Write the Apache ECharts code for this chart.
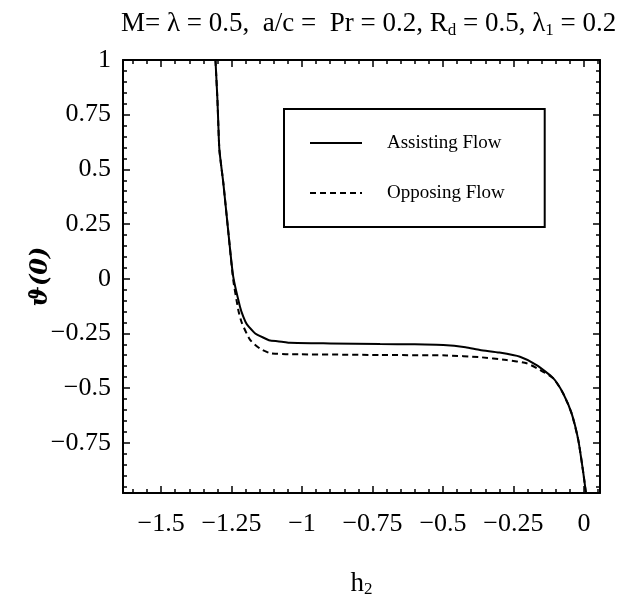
<!DOCTYPE html>
<html>
<head>
<meta charset="utf-8">
<script src="https://cdn.jsdelivr.net/npm/echarts@6/dist/echarts.min.js"></script>
<style>
html,body{margin:0;padding:0;background:#fff;}
#chart{width:621px;height:597px;}
</style>
</head>
<body>
<div id="chart"></div>
<script>
// ---- data ----
const assistX = [-1.307, -1.300, -1.297, -1.293, -1.279, -1.261, -1.244, -1.220, -1.208, -1.196, -1.172, -1.161, -1.125, -1.113, -1.066, -1.043, -0.900, -0.723, -0.600, -0.499, -0.420, -0.369, -0.300, -0.227, -0.168, -0.109, -0.074, -0.044, -0.020, -0.002, 0.007];
const assistY = [1.0, 0.817, 0.711, 0.588, 0.436, 0.208, 0.009, -0.128, -0.175, -0.208, -0.243, -0.255, -0.277, -0.283, -0.289, -0.293, -0.296, -0.299, -0.300, -0.303, -0.313, -0.326, -0.338, -0.357, -0.395, -0.455, -0.524, -0.615, -0.738, -0.890, -0.980];
const opposeX = [-1.307, -1.300, -1.297, -1.293, -1.279, -1.261, -1.244, -1.226, -1.214, -1.184, -1.149, -1.113, -1.090, -1.043, -1.007, -0.723, -0.487, -0.369, -0.274, -0.203, -0.156, -0.109, -0.074, -0.044, -0.020, -0.002, 0.007];
const opposeY = [1.0, 0.817, 0.711, 0.588, 0.436, 0.208, -0.005, -0.143, -0.200, -0.280, -0.320, -0.341, -0.343, -0.346, -0.346, -0.349, -0.351, -0.359, -0.372, -0.387, -0.417, -0.455, -0.524, -0.615, -0.738, -0.890, -0.980];
const seriesNames = ['Assisting Flow', 'Opposing Flow'];
const xTickValues = [-1.5, -1.25, -1, -0.75, -0.5, -0.25, 0];
const xTickLabels = ['−1.5', '−1.25', '−1', '−0.75', '−0.5', '−0.25', '0'];
const yTickValues = [-0.75, -0.5, -0.25, 0, 0.25, 0.5, 0.75, 1];
const yTickLabels = ['−0.75', '−0.5', '−0.25', '0', '0.25', '0.5', '0.75', '1'];
const xRange = [-1.635, 0.057];
const yRange = [-0.98, 1.0];

// minor ticks every 0.05
const xMinor = [];
for (let i = -33; i <= 1; i++) xMinor.push(+(i * 0.05).toFixed(2));
const yMinor = [];
for (let i = -19; i <= 20; i++) yMinor.push(+(i * 0.05).toFixed(2));

const FONT = 'Liberation Serif, Times New Roman, serif';

function labelFor(values, labels) {
  return function (v) {
    for (let i = 0; i < values.length; i++) if (Math.abs(values[i] - v) < 1e-6) return labels[i];
    return '';
  };
}

function axis(kind, pos, ticks, len, withLine, withLabels, range, extra) {
  const a = {
    type: 'value', position: pos, min: range[0], max: range[1],
    splitLine: { show: false },
    axisLine: { show: withLine, onZero: false, lineStyle: { color: '#000', width: 2 } },
    axisTick: { show: true, inside: true, length: len, customValues: ticks, lineStyle: { color: '#000', width: 1.5 } },
    axisLabel: { show: withLabels },
    minorTick: { show: false }
  };
  if (withLabels) {
    const vals = kind === 'x' ? xTickValues : yTickValues;
    const labs = kind === 'x' ? xTickLabels : yTickLabels;
    a.axisLabel = {
      show: true, customValues: vals, formatter: labelFor(vals, labs),
      color: '#000', fontFamily: FONT, fontSize: 26, margin: kind === 'x' ? 18 : 12
    };
  }
  return Object.assign(a, extra || {});
}

const chart = echarts.init(document.getElementById('chart'), null, { renderer: 'canvas' });
chart.setOption({
  backgroundColor: '#fff',
  animation: false,
  title: {
    text: '{a|M= λ = 0.5,  a/c =  Pr = 0.2, R}{s|d}{a| = 0.5, λ}{s|1}{a| = 0.2}',
    left: 116, top: 2,
    textStyle: {
      fontWeight: 'normal',
      rich: {
        a: { fontFamily: FONT, fontSize: 27, fontWeight: 'normal', color: '#000', lineHeight: 34 },
        s: { fontFamily: FONT, fontSize: 17, fontWeight: 'normal', color: '#000', lineHeight: 34, padding: [14, 0, 0, 0] }
      }
    }
  },
  grid: { left: 123, right: 21, top: 60, bottom: 104, containLabel: false, outerBoundsMode: 'none' },
  legend: {
    data: seriesNames, orient: 'vertical', left: 284, top: 109,
    borderColor: '#000', borderWidth: 2, padding: [22, 40, 22, 25],
    itemWidth: 52, itemHeight: 14, itemGap: 26,
    itemStyle: { color: 'rgba(0,0,0,0)', borderColor: 'rgba(0,0,0,0)', borderWidth: 0 },
    textStyle: { fontFamily: FONT, fontSize: 19, color: '#000', lineHeight: 24, padding: [0, 0, 0, 20] }
  },
  xAxis: [
    axis('x', 'bottom', xTickValues, 7, true, true, xRange, {
      name: '{a|h}{s|2}', nameLocation: 'middle', nameGap: 76, nameMoveOverlap: false,
      nameTextStyle: { rich: {
        a: { fontFamily: FONT, fontSize: 27, color: '#000', lineHeight: 30 },
        s: { fontFamily: FONT, fontSize: 17, color: '#000', lineHeight: 30, padding: [12, 0, 0, 0] }
      } }
    }),
    axis('x', 'bottom', xMinor, 4, false, false, xRange),
    axis('x', 'top', xTickValues, 7, true, false, xRange),
    axis('x', 'top', xMinor, 4, false, false, xRange)
  ],
  yAxis: [
    axis('y', 'left', yTickValues, 7, true, true, yRange, {
      name: 'ϑ(0)', nameLocation: 'middle', nameGap: 70, nameRotate: 90, nameMoveOverlap: false,
      nameTextStyle: { fontFamily: 'DejaVu Serif, Liberation Serif, serif', fontSize: 24, fontStyle: 'italic', fontWeight: 'bold', color: '#000' }
    }),
    axis('y', 'left', yMinor, 4, false, false, yRange),
    axis('y', 'right', yTickValues, 7, true, false, yRange),
    axis('y', 'right', yMinor, 4, false, false, yRange)
  ],
  series: [
    {
      name: seriesNames[0], type: 'line', xAxisIndex: 0, yAxisIndex: 0,
      data: assistX.map((x, i) => [x, assistY[i]]),
      showSymbol: false, symbol: 'none', smooth: 0.2, clip: true,
      lineStyle: { color: '#000', width: 2, type: 'solid' },
      itemStyle: { color: '#000' }
    },
    {
      name: seriesNames[1], type: 'line', xAxisIndex: 0, yAxisIndex: 0,
      data: opposeX.map((x, i) => [x, opposeY[i]]),
      showSymbol: false, symbol: 'none', smooth: 0.2, clip: true,
      lineStyle: { color: '#000', width: 2, type: [6, 4] },
      itemStyle: { color: '#000' }
    }
  ]
});
</script>
</body>
</html>
